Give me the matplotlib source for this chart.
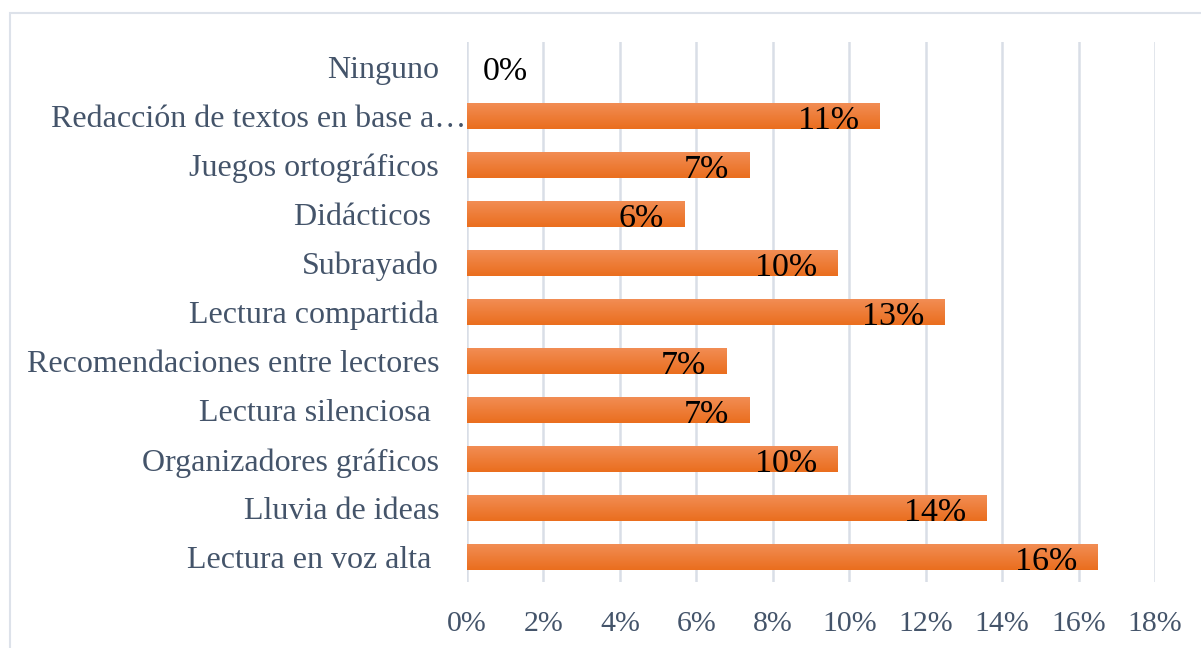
import matplotlib
matplotlib.use("Agg")
from matplotlib import pyplot as plt
from matplotlib.patches import Rectangle
from matplotlib.ticker import PercentFormatter
import matplotlib.transforms as mtransforms
import numpy as np

categories = ["Ninguno", "Redacción de textos en base a…", "Juegos ortográficos",
              "Didácticos ", "Subrayado", "Lectura compartida",
              "Recomendaciones entre lectores", "Lectura silenciosa ",
              "Organizadores gráficos", "Lluvia de ideas", "Lectura en voz alta "]
values = [0.0, 10.8, 7.4, 5.7, 9.7, 12.5, 6.8, 7.4, 9.7, 13.6, 16.5]
labels = ["0%", "11%", "7%", "6%", "10%", "13%", "7%", "7%", "10%", "14%", "16%"]
xticks = [0, 2, 4, 6, 8, 10, 12, 14, 16, 18]

plt.rcParams['font.family'] = ['Liberation Serif', 'DejaVu Serif']

fig = plt.figure(figsize=(12.01, 6.48), dpi=100)
ax = fig.add_axes([467/1201, 1-582/648, (1155-467)/1201, (582-42)/648])

ypos = np.arange(len(categories))
bars = ax.barh(ypos, values, height=0.53, color='none', zorder=2)

# vertical gradient fill for each bar
top = np.array([242, 142, 86]) / 255
bot = np.array([234, 110, 30]) / 255
grad = np.linspace(top, bot, 64).reshape(64, 1, 3)
for r in bars:
    if r.get_width() <= 0:
        continue
    x0, y0, w, h = r.get_x(), r.get_y(), r.get_width(), r.get_height()
    im = ax.imshow(grad, extent=[x0, x0 + w, y0 + h, y0], origin='upper',
                   aspect='auto', zorder=2, interpolation='bilinear')
    im.set_clip_path(r)

for y, v, lab in zip(ypos, values, labels):
    if v == 0:
        ax.annotate(lab, (v, y + 0.265), xytext=(11, 0), textcoords='offset points',
                    ha='left', va='baseline', fontsize=24.5, color='black', zorder=3)
    else:
        ax.annotate(lab, (v, y + 0.265), xytext=(-15, 0), textcoords='offset points',
                    ha='right', va='baseline', fontsize=24.5, color='black', zorder=3)

ax.set_xlim(0, 18)
ax.set_ylim(len(categories) - 0.5, -0.5)
ax.set_xticks(xticks)
ax.xaxis.set_major_formatter(PercentFormatter(decimals=0))
ax.set_yticks(ypos)
ax.set_yticklabels(categories)
ax.tick_params(axis='y', length=0, pad=20, labelsize=23, labelcolor='#44546A')
ax.tick_params(axis='x', length=0, pad=21, labelsize=21.5, labelcolor='#44546A')
for s in ax.spines.values():
    s.set_visible(False)
ax.grid(axis='x', color='#D9DEE7', lw=1.8)
ax.set_axisbelow(True)

# truncated label runs right up to the axis
tl = ax.get_yticklabels()[1]
tl.set_transform(tl.get_transform() + mtransforms.ScaledTranslation(27/100, 0, fig.dpi_scale_trans))

fig.patches.append(Rectangle((10/1201, -0.1), 1.2, (648-13)/648 + 0.1,
                             transform=fig.transFigure, fill=False,
                             ec='#DDE2EA', lw=1.5))

plt.savefig("out.png", dpi=100)
